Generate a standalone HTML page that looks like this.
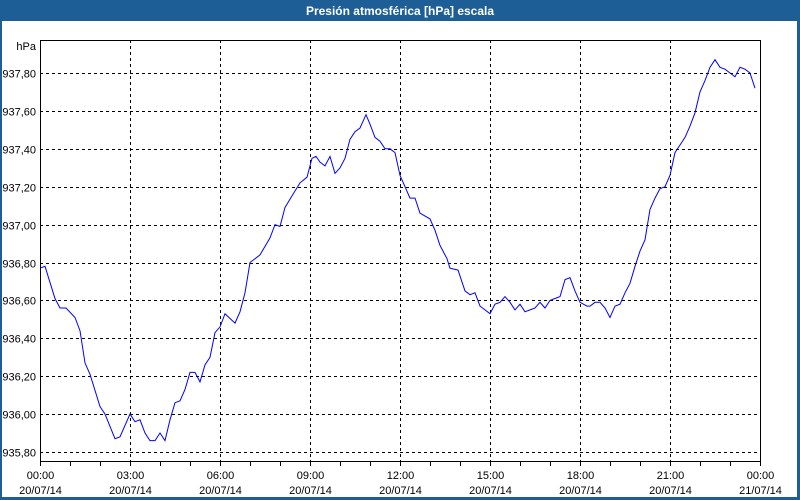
<!DOCTYPE html>
<html><head><meta charset="utf-8"><style>
html,body{margin:0;padding:0;background:#1d5e97;}
svg{display:block;font-family:"Liberation Sans",Tahoma,sans-serif;}
</style></head><body>
<svg width="800" height="500" xmlns="http://www.w3.org/2000/svg">
<rect x="0" y="0" width="800" height="500" fill="#1d5e97"/>
<rect x="2" y="21" width="795" height="476" fill="#ffffff"/>
<text x="400" y="15" text-anchor="middle" fill="#ffffff" font-size="12" font-weight="bold">Presión atmosférica [hPa] escala</text>
<g id="grid"></g>
<g id="axes"></g>
<g id="series"></g>
</svg>
<script>
const times = [0,0.167,0.5,0.667,0.867,1.167,1.333,1.5,1.667,2.0,2.167,2.5,2.667,3.0,3.167,3.333,3.5,3.667,3.833,4.0,4.167,4.333,4.5,4.667,4.833,5.0,5.167,5.333,5.5,5.667,5.833,6.0,6.167,6.5,6.667,6.833,7.0,7.333,7.667,7.833,8.0,8.167,8.433,8.667,8.9,9.067,9.2,9.333,9.5,9.667,9.833,10.0,10.167,10.333,10.5,10.667,10.867,11.0,11.167,11.333,11.5,11.667,11.833,12.0,12.167,12.333,12.5,12.667,13.0,13.167,13.333,13.567,13.667,13.933,14.167,14.333,14.5,14.667,14.833,15.0,15.167,15.333,15.5,15.667,15.833,16.0,16.167,16.333,16.5,16.667,16.833,17.0,17.167,17.333,17.5,17.667,17.833,18.0,18.233,18.333,18.5,18.667,18.833,19.0,19.167,19.333,19.5,19.667,19.833,20.0,20.167,20.333,20.5,20.667,20.833,21.0,21.167,21.333,21.5,21.667,21.833,22.0,22.167,22.333,22.5,22.667,22.833,23.0,23.167,23.333,23.5,23.667,23.833];
const pressures = [936.77,936.78,936.61,936.56,936.56,936.51,936.44,936.27,936.21,936.04,936.00,935.87,935.88,936.00,935.96,935.97,935.90,935.86,935.86,935.90,935.86,935.97,936.06,936.07,936.13,936.22,936.22,936.17,936.26,936.30,936.43,936.46,936.53,936.48,936.54,936.64,936.80,936.84,936.93,937.00,936.99,937.09,937.16,937.22,937.25,937.35,937.36,937.33,937.31,937.36,937.27,937.30,937.35,937.45,937.49,937.51,937.58,937.53,937.46,937.44,937.40,937.40,937.38,937.26,937.20,937.14,937.14,937.06,937.03,936.97,936.89,936.82,936.77,936.76,936.65,936.63,936.64,936.57,936.55,936.53,936.58,936.59,936.62,936.59,936.55,936.58,936.54,936.55,936.56,936.59,936.56,936.60,936.61,936.62,936.71,936.72,936.65,936.59,936.57,936.57,936.59,936.59,936.56,936.51,936.57,936.58,936.64,936.69,936.78,936.86,936.92,937.08,937.14,937.19,937.20,937.26,937.38,937.42,937.46,937.52,937.59,937.70,937.76,937.83,937.87,937.83,937.82,937.80,937.78,937.83,937.82,937.80,937.72];
const yTicks = [935.8,936.0,936.2,936.4,936.6,936.8,937.0,937.2,937.4,937.6,937.8];
const yTickLabels = ["935,80","936,00","936,20","936,40","936,60","936,80","937,00","937,20","937,40","937,60","937,80"];
const xTicks = [0,3,6,9,12,15,18,21,24];
const xTimeLabels = ["00:00","03:00","06:00","09:00","12:00","15:00","18:00","21:00","00:00"];
const xDateLabels = ["20/07/14","20/07/14","20/07/14","20/07/14","20/07/14","20/07/14","20/07/14","20/07/14","21/07/14"];

const L=40,R=760,T=40,B=461;
function xs(t){return L+t*(R-L)/24;}
function ys(v){return 73+(937.8-v)/0.2*37.9;}
const NS="http://www.w3.org/2000/svg";
function mk(tag,attrs,parent){const e=document.createElementNS(NS,tag);for(const k in attrs)e.setAttribute(k,attrs[k]);parent.appendChild(e);return e;}
const grid=document.getElementById('grid'),axes=document.getElementById('axes'),series=document.getElementById('series');

yTicks.forEach((v,i)=>{
  const y=Math.round(ys(v))+0.5;
  const g=mk('line',{x1:L,x2:R,y1:y,y2:y,stroke:'#000','stroke-dasharray':'3,3','stroke-width':1},grid);
  
  
  const t=mk('text',{x:36,y:y+4,'text-anchor':'end','font-size':11,fill:'#000'},axes);
  t.textContent=yTickLabels[i];
  
  
});
xTicks.forEach((h,i)=>{
  const x=Math.round(xs(h))+0.5;
  if(i>0&&i<xTicks.length-1){
    const g=mk('line',{x1:x,x2:x,y1:T,y2:B,stroke:'#000','stroke-dasharray':'3,3','stroke-width':1},grid);
    
    
  }
  const t1=mk('text',{x:x,y:479,'text-anchor':'middle','font-size':11,fill:'#000'},axes);
  t1.textContent=xTimeLabels[i];
  
  
  const t2=mk('text',{x:x,y:494,'text-anchor':'middle','font-size':11,fill:'#000'},axes);
  t2.textContent=xDateLabels[i];
  
  
});
for(let h=0;h<=24;h++){
  const x=Math.round(xs(h))+0.5;
  const m=mk('line',{x1:x,x2:x,y1:B,y2:B+5,stroke:'#000'},axes);
  
  
}
const frame=mk('rect',{x:L+0.5,y:T+0.5,width:R-L,height:B-T,fill:'none',stroke:'#000','stroke-width':1},axes);


const unit=mk('text',{x:36,y:50,'text-anchor':'end','font-size':11,fill:'#000'},axes);
unit.textContent='hPa';



const pts=times.map((t,i)=>xs(t).toFixed(1)+','+ys(pressures[i]).toFixed(1)).join(' ');
const line=mk('polyline',{points:pts,fill:'none',stroke:'#0000ff','stroke-width':1},series);


</script>
</body></html>
